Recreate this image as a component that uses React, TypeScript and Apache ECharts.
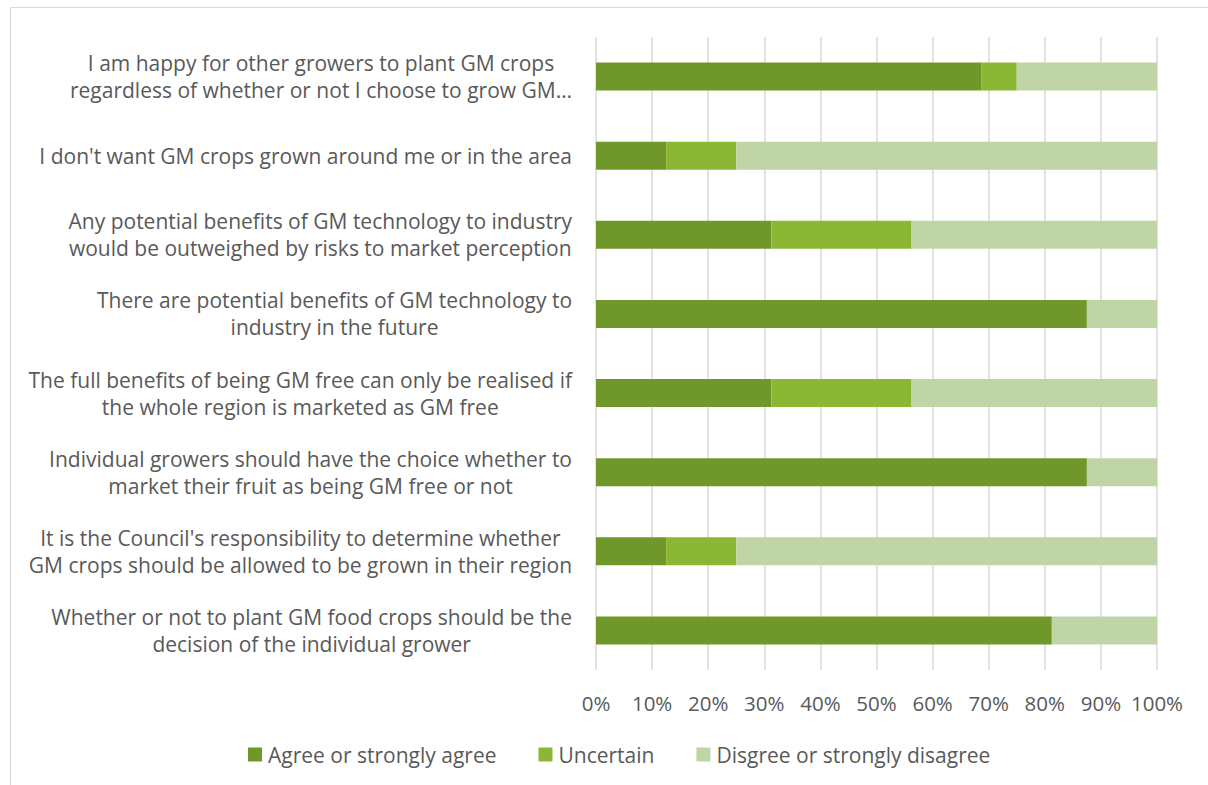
import React, { useEffect, useRef } from "react";
import * as echarts from "echarts";

const categories: string[] = [
  "I am happy for other growers to plant GM crops\nregardless of whether or not I choose to grow GM…",
  "I don't want GM crops grown around me or in the area",
  "Any potential benefits of GM technology to industry\nwould be outweighed by risks to market perception",
  "There are potential benefits of GM technology to\nindustry in the future",
  "The full benefits of being GM free can only be realised if\nthe whole region is marketed as GM free",
  "Individual growers should have the choice whether to\nmarket their fruit as being GM free or not",
  "It is the Council's responsibility to determine whether\nGM crops should be allowed to be grown in their region",
  "Whether or not to plant GM food crops should be the\ndecision of the individual grower",
];

const agree: number[] = [68.75, 12.5, 31.25, 87.5, 31.25, 87.5, 12.5, 81.25];
const uncertain: number[] = [6.25, 12.5, 25, 0, 25, 0, 12.5, 0];
const disagree: number[] = [25, 75, 43.75, 12.5, 43.75, 12.5, 75, 18.75];

const seriesNames: string[] = [
  "Agree or strongly agree",
  "Uncertain",
  "Disgree or strongly disagree",
];
const colors: string[] = ["#70972a", "#8bb734", "#c0d5a6"];

const FONT = "Open Sans";
const TEXT = "#595959";

export default function App() {
  const ref = useRef<HTMLDivElement>(null);

  useEffect(() => {
    if (!ref.current) return;
    const chart = echarts.init(ref.current, undefined, { renderer: "svg" });
    const values = [agree, uncertain, disagree];
    chart.setOption({
      animation: false,
      backgroundColor: "#ffffff",
      textStyle: { fontFamily: FONT, color: TEXT },
      graphic: [
        {
          type: "rect",
          shape: { x: 10.5, y: 7.5, width: 1400, height: 1000 },
          style: { fill: "none", stroke: "#d9d9d9", lineWidth: 1 },
          silent: true,
          z: -10,
        },
      ],
      grid: { left: 596, right: 51, top: 37, bottom: 115, containLabel: false },
      legend: {
        bottom: 15,
        left: 243,
        itemWidth: 14,
        itemHeight: 14,
        itemGap: 42,
        icon: "rect",
        textStyle: { fontFamily: FONT, fontSize: 21, color: TEXT, padding: [0, 0, 0, 1] },
        data: seriesNames,
      },
      xAxis: {
        type: "value",
        min: 0,
        max: 100,
        interval: 10,
        axisLine: { show: false },
        axisTick: { show: false },
        axisLabel: {
          formatter: "{value}%",
          fontFamily: FONT,
          fontSize: 20.5,
          color: TEXT,
          margin: 22,
        },
        splitLine: { show: true, lineStyle: { color: "#d9d9d9", width: 1.5 } },
      },
      yAxis: {
        type: "category",
        inverse: true,
        data: categories,
        axisLine: { show: false },
        axisTick: { show: false },
        axisLabel: {
          margin: 24,
          align: "right",
          formatter: (v: string) =>
            v
              .split("\n")
              .map((l) => `{c|${l}}`)
              .join("\n"),
          rich: {
            c: {
              align: "center",
              fontFamily: FONT,
              fontSize: 21,
              lineHeight: 27,
              color: TEXT,
            },
          },
        },
      },
      series: seriesNames.map((name, i) => ({
        name,
        type: "bar",
        stack: "total",
        barWidth: 28,
        itemStyle: { color: colors[i] },
        data: values[i],
      })),
    });
    return () => chart.dispose();
  }, []);

  return (
    <div
      ref={ref}
      style={{ position: "fixed", left: 0, top: 0, width: 1208, height: 785 }}
    />
  );
}
